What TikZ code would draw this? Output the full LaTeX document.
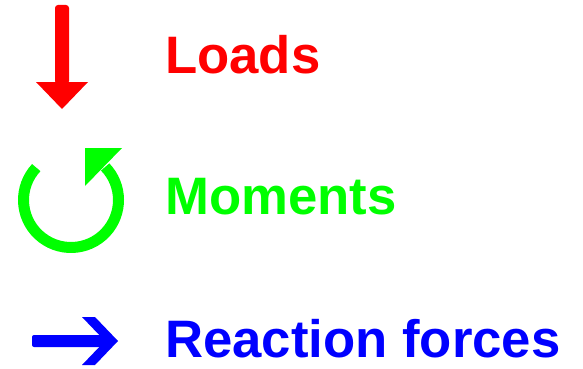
\documentclass[tikz,border=0pt]{standalone}
\usepackage{fontspec}
\setmainfont{Liberation Sans}
\definecolor{loadred}{RGB}{255,0,0}
\definecolor{momgreen}{RGB}{0,255,0}
\definecolor{reactblue}{RGB}{0,0,255}
\begin{document}
\begin{tikzpicture}[x=1pt,y=-1pt,
  label/.style={anchor=base west,inner sep=0pt,font=\fontsize{52.7}{60}\selectfont\bfseries}]
\useasboundingbox (0,0) rectangle (583,369);
% Loads arrow
\fill[loadred,rounded corners=3pt] (55,5) rectangle (69,84);
\fill[loadred] (36,82) -- (88,82) -- (62,109) -- cycle;
% Moment arrow
\coordinate (mc) at (71,200);
\draw[momgreen,line width=11pt] (mc) ++(-137:47.5) arc[start angle=-137,end angle=-404,radius=47.5];
\fill[momgreen] (85,148) -- (122,148) -- (85,186) -- cycle;
% Reaction arrow
\fill[reactblue,rounded corners=2pt] (32,335) rectangle (106,347);
\fill[reactblue] (82,317) -- (95,317) -- (118,341) -- (95,365) -- (82,365) -- (105,341) -- cycle;
% Labels
\node[label,text=loadred] (l1) at (165,73.5) {Loads};
\node[label,text=momgreen] (l2) at (165,214) {Moments};
\node[label,text=reactblue] (l3) at (165,357) {Reaction forces};
\end{tikzpicture}
\end{document}
